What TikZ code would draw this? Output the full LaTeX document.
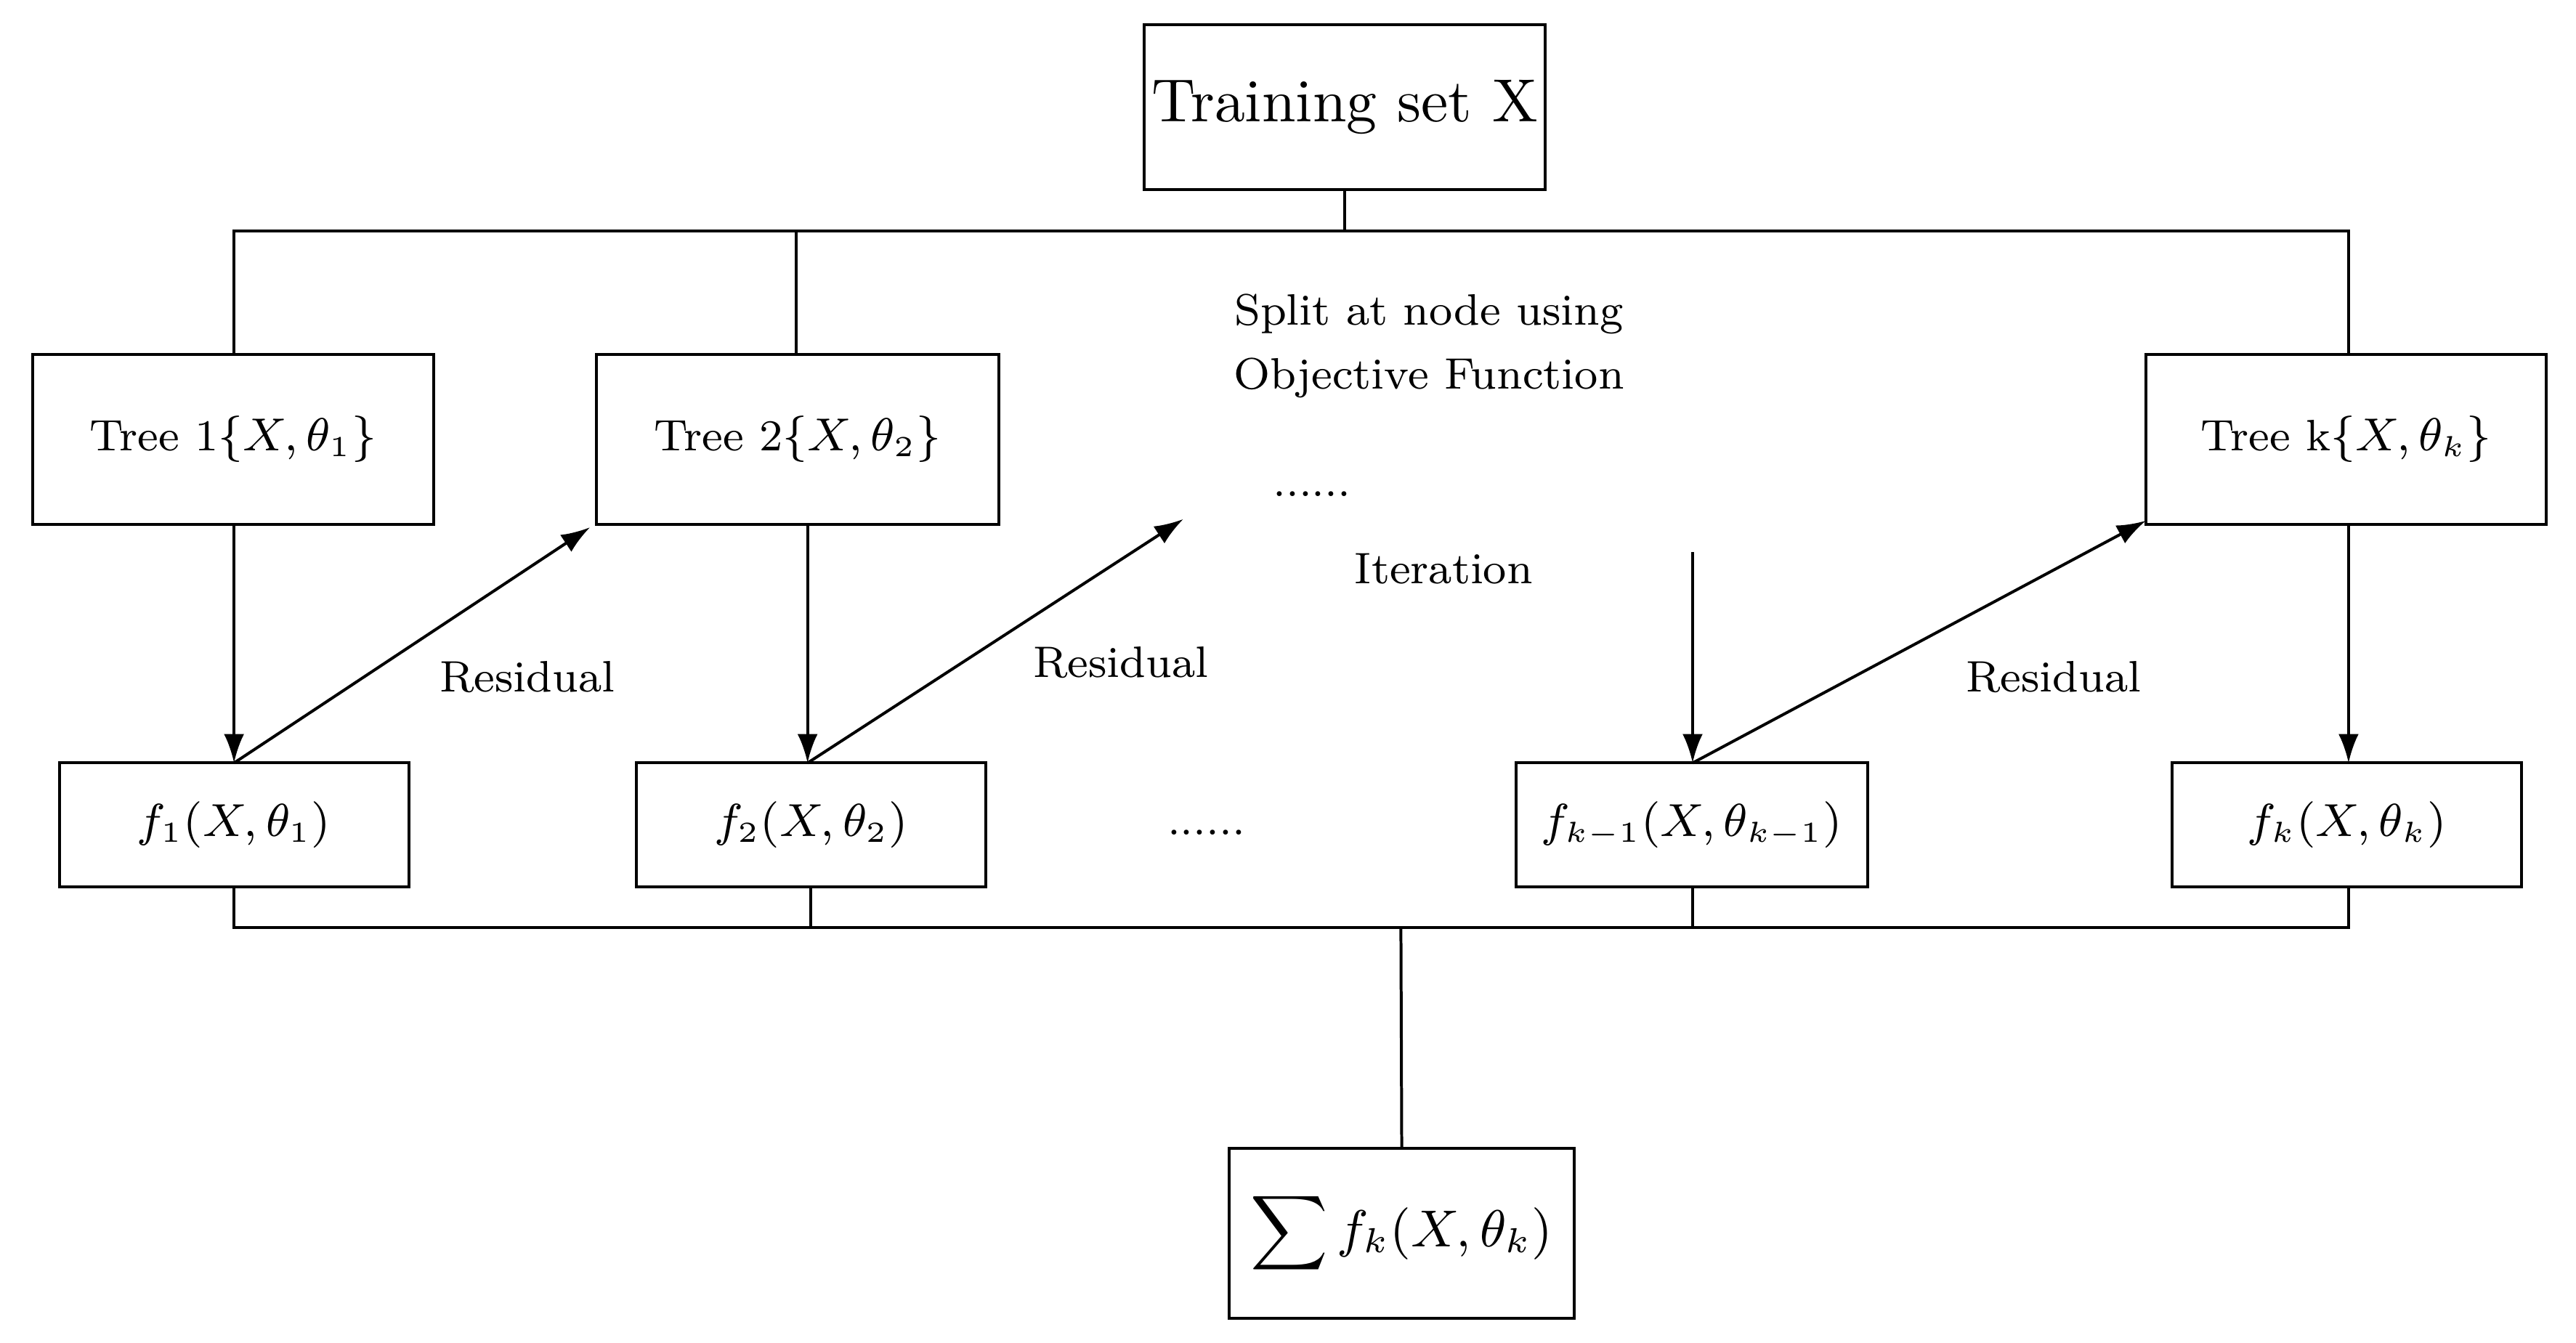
\documentclass[tikz,border=0pt]{standalone}
\usepackage{amsmath}
\usetikzlibrary{arrows.meta}
\begin{document}
\begin{tikzpicture}[x=0.01cm,y=-0.01cm,
  box/.style={draw,line width=0.5pt,inner sep=0pt,font=\fontsize{7.6}{9}\selectfont},
  lbl/.style={font=\fontsize{7.6}{9}\selectfont,inner sep=0pt},
  arr/.style={-{Latex[length=5pt,width=3.5pt]},line width=0.5pt},
  ln/.style={line width=0.5pt}]
\useasboundingbox (0,0) rectangle (1563,815);
\node[box,minimum width=2.43cm,minimum height=1.0cm,font=\fontsize{10.5}{12}\selectfont] (T) at (816,65) {Training set X};
\node[box,minimum width=2.43cm,minimum height=1.03cm] (t1) at (141.5,266.5) {Tree 1$\{X,\theta_1\}$};
\node[box,minimum width=2.44cm,minimum height=1.03cm] (t2) at (484,266.5) {Tree 2$\{X,\theta_2\}$};
\node[box,minimum width=2.43cm,minimum height=1.03cm] (tk) at (1423.5,266.5) {Tree k$\{X,\theta_k\}$};
\node[box,minimum width=2.12cm,minimum height=0.75cm] (f1) at (142,500.5) {$f_1(X,\theta_1)$};
\node[box,minimum width=2.12cm,minimum height=0.75cm] (f2) at (492,500.5) {$f_2(X,\theta_2)$};
\node[box,minimum width=2.13cm,minimum height=0.75cm] (fk1) at (1026.5,500.5) {$f_{k-1}(X,\theta_{k-1})$};
\node[box,minimum width=2.12cm,minimum height=0.75cm] (fk) at (1424,500.5) {$f_k(X,\theta_k)$};
\node[box,minimum width=2.09cm,minimum height=1.03cm,font=\fontsize{9}{11}\selectfont] (S) at (850.5,748.5) {$\displaystyle\sum f_k(X,\theta_k)$};
\node[lbl,align=center] (split) at (867,210) {Split at node using\\[2pt]Objective Function};
\node[lbl] (d1) at (796,300) {......};
\node[lbl] (it) at (876,345) {Iteration};
\node[lbl] (d2) at (732,505) {......};
\node[lbl] (r1) at (320,411) {Residual};
\node[lbl] (r2) at (680,402) {Residual};
\node[lbl] (r3) at (1246,411) {Residual};
\coordinate (bt) at (816,140);
\coordinate (a2) at (718,315);
\coordinate (a3) at (1027,335);
\draw[ln] (T.south) -- (bt);
\draw[ln] (142,215) |- (1425,140) -- (1425,215);
\draw[ln] (483,140) -- (483,215);
\draw[arr] (142,318) -- (142,463);
\draw[arr] (142,463) -- (358,320);
\draw[arr] (490,318) -- (490,463);
\draw[arr] (490,463) -- (a2);
\draw[arr] (a3) -- (1027,463);
\draw[arr] (1027,463) -- (1302,316);
\draw[arr] (1425,318) -- (1425,463);
\draw[ln] (142,538) |- (1425,563) -- (1425,538);
\draw[ln] (492,538) -- (492,563);
\draw[ln] (1027,538) -- (1027,563);
\draw[ln] (850,563) -- (S.north);
\end{tikzpicture}
\end{document}
